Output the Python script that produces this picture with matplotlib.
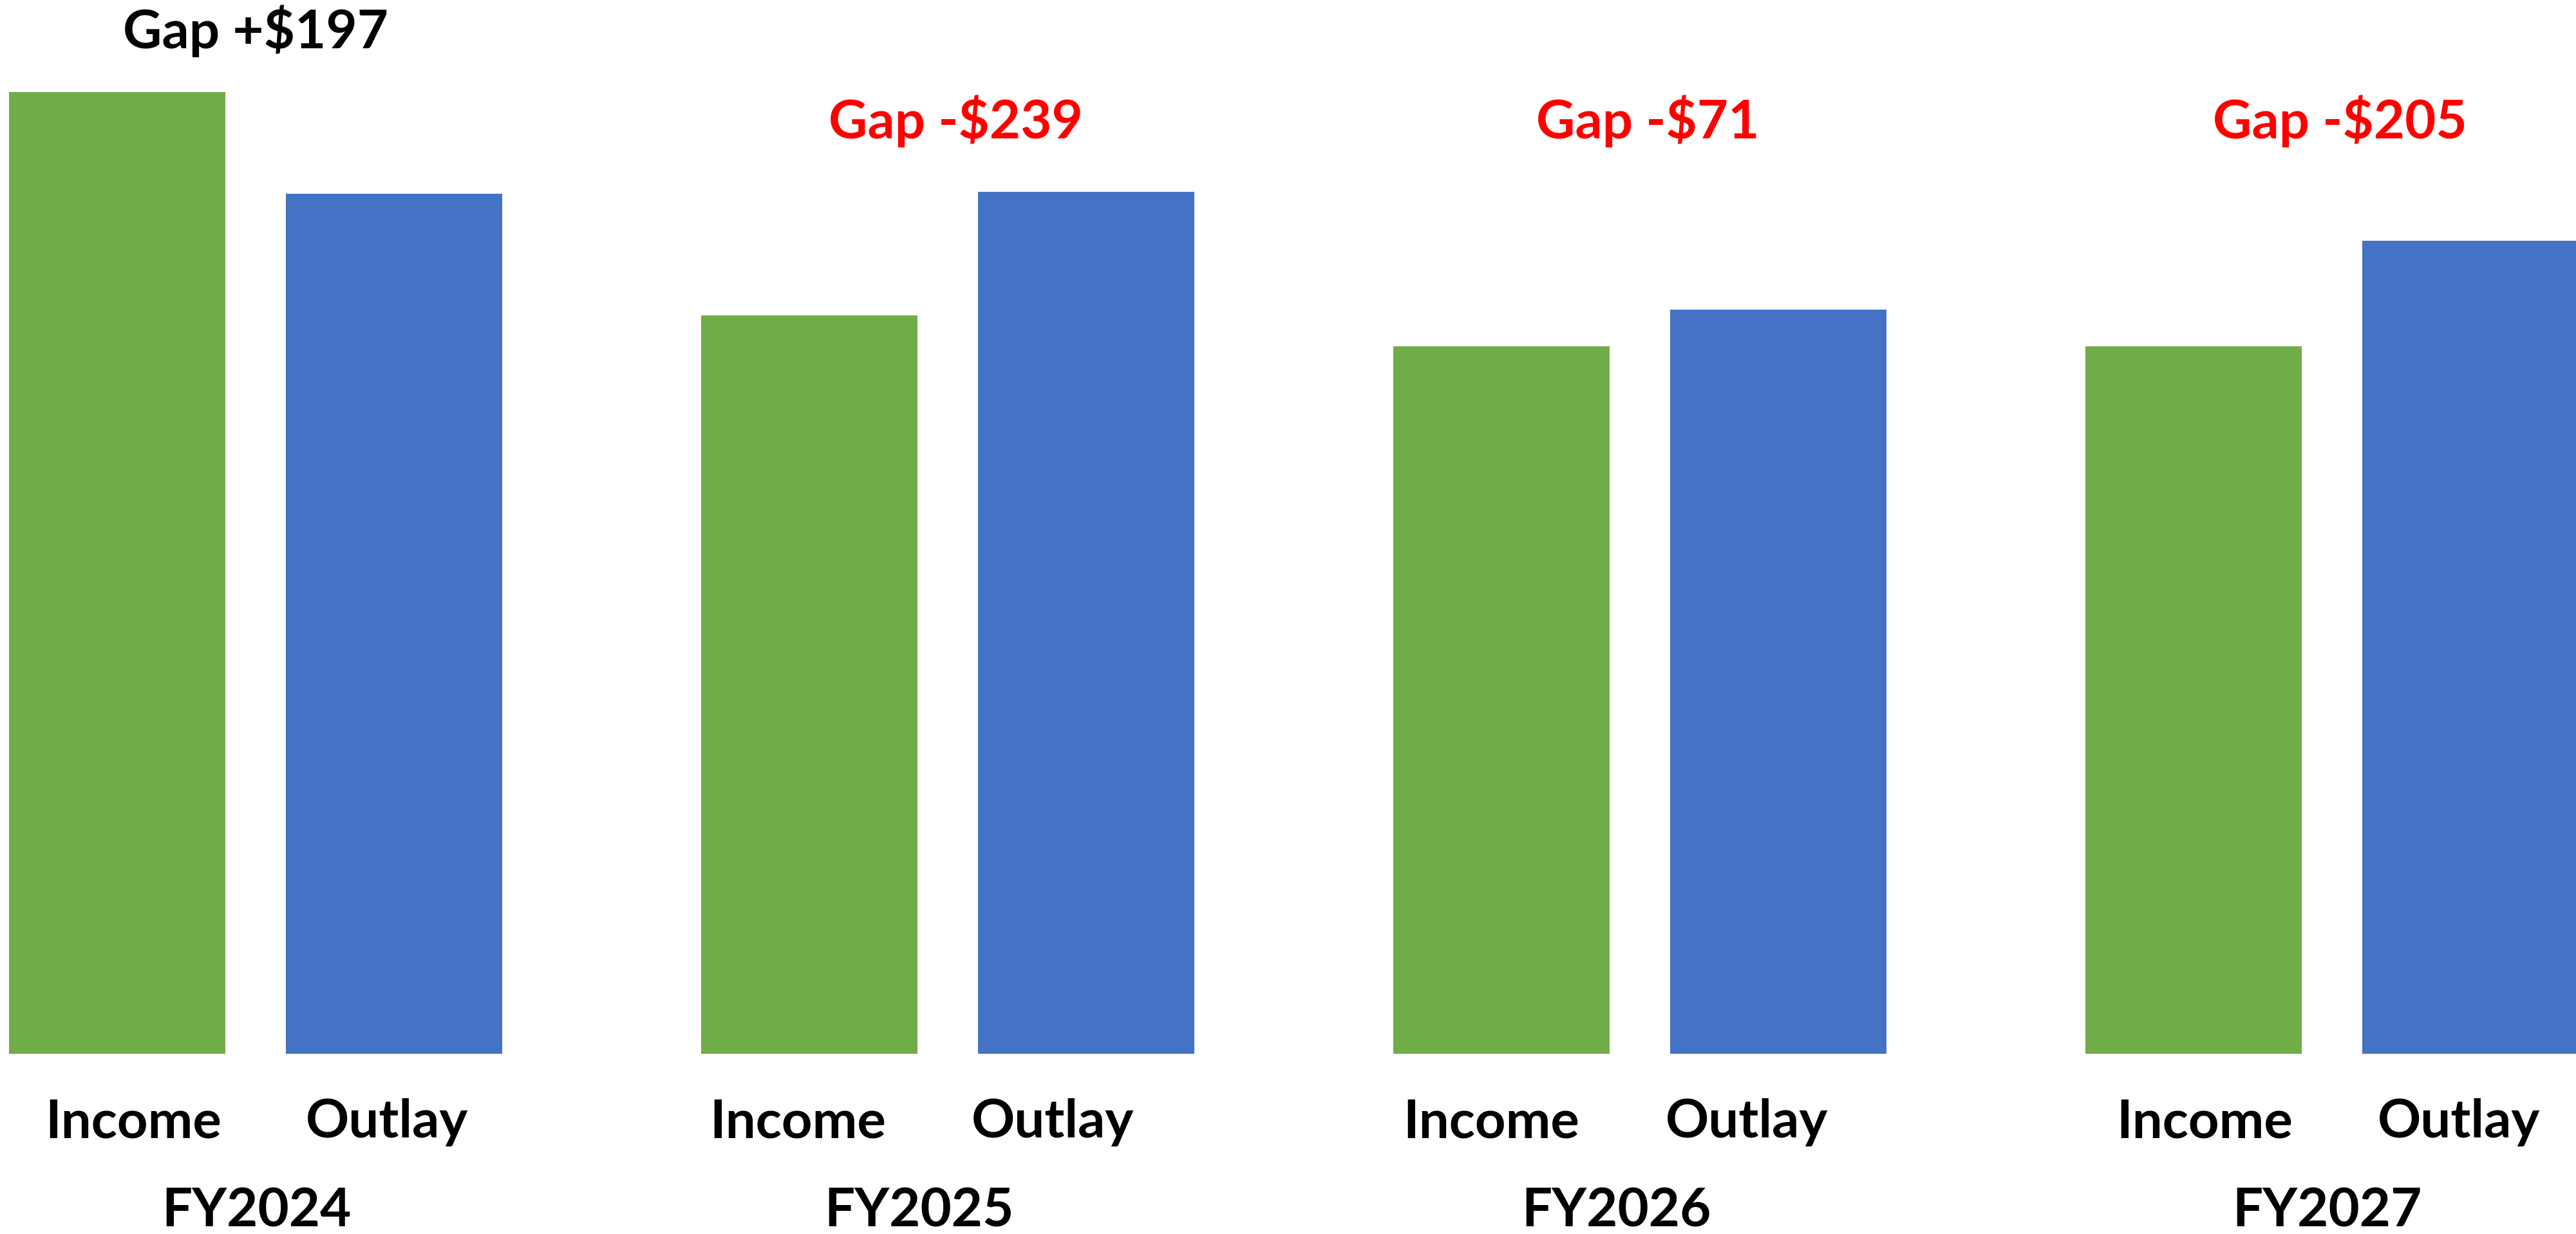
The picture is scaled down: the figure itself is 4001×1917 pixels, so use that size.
import matplotlib
matplotlib.use("Agg")
import matplotlib.pyplot as plt
import matplotlib.transforms as mtransforms
import numpy as np

# data
years = ["FY2024", "FY2025", "FY2026", "FY2027"]
series = ["Income", "Outlay"]
income = [1860, 1428, 1368, 1368]
outlay = [1663, 1667, 1439, 1573]

green = "#70AD47"
blue = "#4472C4"

# label nudges in pixels (the labels in the original are not exactly centred)
inc_shift = [25, -18, -16, 17]
out_shift = [-11, -52, -49, -18]
yr_shift = [2, -44, -36, -7]

plt.rcParams["font.family"] = ["Lato", "DejaVu Sans"]

W, H = 4001, 1917
fig = plt.figure(figsize=(W / 100, H / 100), dpi=100)
ax = fig.add_axes([0, 280 / H, 1, 1637 / H])

x = np.arange(len(years))
off = 0.2
bw = 0.3126
ax.bar(x - off, income, width=bw, color=green)
ax.bar(x + off, outlay, width=bw, color=blue)

ax.set_xlim(-0.3693, -0.3693 + W / 1075)
ax.set_ylim(0, 1637 * 1.245)
ax.axis("off")

trans = mtransforms.blended_transform_factory(ax.transData, ax.transAxes)
fs = 60


def put(xx, yy, s, dx=0, color="black"):
    t = mtransforms.offset_copy(trans, fig=fig, x=dx, y=0, units="dots")
    ax.text(xx, yy, s, transform=t, ha="center", va="baseline",
            fontsize=fs, fontweight="bold", color=color, clip_on=False)


for i in range(len(years)):
    put(x[i] - off, -130 / 1637, series[0], inc_shift[i])
    put(x[i] + off, -130 / 1637, series[1], out_shift[i])
    put(x[i], -268 / 1637, years[i], yr_shift[i])

    gap = income[i] - outlay[i]
    if gap >= 0:
        put(x[i], (1637 - 75) / 1637, "Gap +$%d" % gap)
    else:
        put(x[i], (1637 - 215) / 1637, "Gap -$%d" % abs(gap), 12, "#FF0000")

fig.savefig("out.png", dpi=100, facecolor="white")
